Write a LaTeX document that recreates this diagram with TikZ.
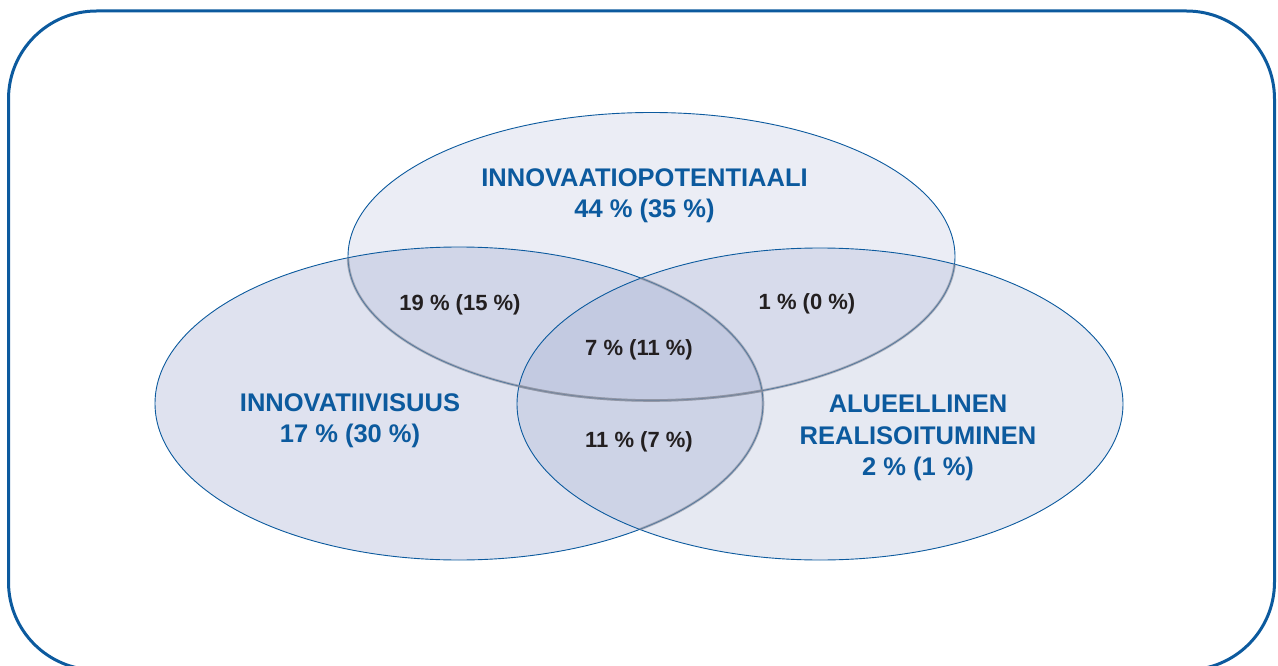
\documentclass[tikz,border=0pt]{standalone}
\usepackage{fontspec}
\setmainfont{Liberation Sans}
\definecolor{venblue}{HTML}{0C5A9E}
\definecolor{venfill}{HTML}{9AA6CC}
\definecolor{venrim}{HTML}{8A8E9C}
\definecolor{vennum}{HTML}{231F20}

\begin{document}
\begin{tikzpicture}[x=1pt, y=-1pt,
   rim/.style={draw=venblue, line width=0.9pt},
   shade/.style={draw=venrim, line width=2.6pt, opacity=0.6},
   frame/.style={draw=venblue, line width=3pt, rounded corners=88pt},
   title/.style={text=venblue, font=\fontsize{25.5}{31.5}\selectfont\bfseries, align=center},
   share/.style={text=vennum, font=\fontsize{22}{26}\selectfont\bfseries}]
\useasboundingbox (0,0) rectangle (1278,666);
\draw[frame] (8.5,11) rectangle (1274.5,670);

\coordinate (pot) at (651.5,256.5);
\coordinate (inn) at (459,403.5);
\coordinate (alue) at (820,404);

% the three sets
\fill[venfill, fill opacity=0.2] (pot) ellipse [x radius=303.5pt, y radius=144pt];
\fill[venfill, fill opacity=0.32] (inn) ellipse [x radius=304pt, y radius=156.5pt];
\fill[venfill, fill opacity=0.25] (alue) ellipse [x radius=303pt, y radius=156pt];

\draw[rim] (pot) ellipse [x radius=303.5pt, y radius=144pt];
\draw[rim] (inn) ellipse [x radius=304pt, y radius=156.5pt];
\draw[rim] (alue) ellipse [x radius=303pt, y radius=156pt];

% darker rims where the sets overlap
\begin{scope}
  \clip (inn) ellipse [x radius=304pt, y radius=156.5pt];
  \draw[shade] (pot) ellipse [x radius=303.5pt, y radius=144pt];
\end{scope}
\begin{scope}
  \clip (alue) ellipse [x radius=303pt, y radius=156pt];
  \draw[shade] (pot) ellipse [x radius=303.5pt, y radius=144pt];
  \draw[shade] (inn) ellipse [x radius=304pt, y radius=156.5pt];
\end{scope}

\node[title] (potlabel) at (644.5,195.5) {INNOVAATIOPOTENTIAALI\\44 \% (35 \%)};
\node[title] (innlabel) at (350,420.5) {INNOVATIIVISUUS\\17 \% (30 \%)};
\node[title] (aluelabel) at (918,438) {ALUEELLINEN\\REALISOITUMINEN\\2 \% (1 \%)};

\node[share] (potinn) at (460,304.5) {19 \% (15 \%)};
\node[share] (potalue) at (807,303.5) {1 \% (0 \%)};
\node[share] (all) at (639,349.5) {7 \% (11 \%)};
\node[share] (innalue) at (639,441.5) {11 \% (7 \%)};
\end{tikzpicture}
\end{document}
